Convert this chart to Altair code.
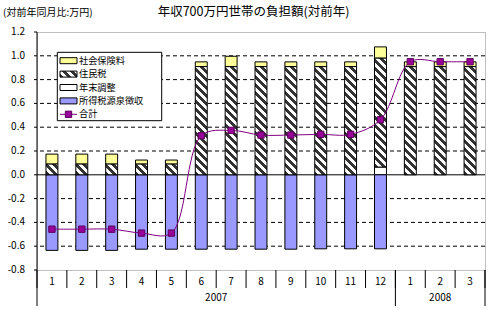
import altair as alt
import pandas as pd

# ---------------- data ----------------
months = ["1", "2", "3", "4", "5", "6", "7", "8", "9", "10", "11", "12", "1", "2", "3"]
years = ["2007"] * 12 + ["2008"] * 3
series_names = ["社会保険料", "住民税", "年末調整", "所得税源泉徴収"]
total_name = "合計"

social_insurance = [0.084, 0.084, 0.084, 0.034, 0.034, 0.040, 0.087, 0.040, 0.040, 0.040, 0.040, 0.095, 0.040, 0.040, 0.040]
resident_tax = [0.090, 0.090, 0.090, 0.090, 0.090, 0.909, 0.909, 0.909, 0.909, 0.909, 0.909, 0.915, 0.909, 0.909, 0.909]
year_end_adj = [0, 0, 0, 0, 0, 0, 0, 0, 0, 0, 0, 0.065, 0, 0, 0]
withholding = [-0.635, -0.635, -0.635, -0.625, -0.625, -0.625, -0.625, -0.625, -0.625, -0.622, -0.622, -0.622, 0, 0, 0]
total = [-0.457, -0.457, -0.457, -0.490, -0.490, 0.328, 0.373, 0.334, 0.334, 0.340, 0.340, 0.463, 0.950, 0.950, 0.950]
y_ticks = [-0.8, -0.6, -0.4, -0.2, 0.0, 0.2, 0.4, 0.6, 0.8, 1.0, 1.2]

# ---------------- tables built from the arrays ----------------
rows = []
for i in range(len(months)):
    ye, rt, si, wh = year_end_adj[i], resident_tax[i], social_insurance[i], withholding[i]
    parts = [
        ("年末調整", 0.0, ye, ye),
        ("住民税", ye, ye + rt, rt),
        ("社会保険料", ye + rt, ye + rt + si, si),
        ("所得税源泉徴収", 0.0, wh, wh),
    ]
    for name, a, b, v in parts:
        if v != 0:
            rows.append({"idx": i, "x0": i + 0.3, "x1": i + 0.7, "series": name,
                         "y0": a, "y1": b, "value": v})
bars = pd.DataFrame(rows)
line_df = pd.DataFrame({"xc": [i + 0.5 for i in range(len(months))], "total": total})

n = len(months)
month_df = pd.DataFrame({"xc": [i + 0.5 for i in range(n)], "m": months})
bounds = pd.DataFrame({"b": list(range(n + 1))})
year_starts = [i for i in range(n) if i == 0 or years[i] != years[i - 1]]
year_bounds = pd.DataFrame({"b": year_starts + [n]})
year_labels = pd.DataFrame({
    "year": [years[s] for s in year_starts],
    "mid": [(s + e) / 2 for s, e in zip(year_starts, year_starts[1:] + [n])],
})
grid_df = pd.DataFrame({"g": [v for v in y_ticks if v not in (0.0, -0.8, 1.2)]})
ytick_df = pd.DataFrame({"v": y_ticks, "lab": [f"{v:.1f}" for v in y_ticks]})

# ---------------- styling ----------------
W, H = 448, 238
FONT = "Noto Sans CJK JP"
colors = {"社会保険料": "#FFFF99", "住民税": "#333333", "年末調整": "#FFFFFF", "所得税源泉徴収": "#9999FF"}
PURPLE = "#800080"
step_px = W / n
px_per_unit = H / 2.0


def hatch(w, h, period=8.0, dark="#333333", light="#FFFFFF"):
    r = h / w
    s = (1 + r) / (1 + r * r)
    count = (h + w) / period
    stops = []
    k = 0
    while k < count:
        a = k / count
        b = min((k + 0.5) / count, 1.0)
        c = min((k + 1) / count, 1.0)
        stops.append(alt.GradientStop(offset=a, color=dark))
        stops.append(alt.GradientStop(offset=b, color=dark))
        if b < 1.0:
            stops.append(alt.GradientStop(offset=b, color=light))
            stops.append(alt.GradientStop(offset=c, color=light))
        k += 1
    return alt.LinearGradient(gradient="linear", stops=stops, x1=0, y1=1, x2=s, y2=1 - s * r)


xscale = alt.Scale(domain=[0, n], nice=False, zero=False)
yscale = alt.Scale(domain=[-0.8, 1.2], nice=False)
color_scale = alt.Scale(domain=series_names, range=[colors[s] for s in series_names])

base = alt.Chart(bars)

# dashed grid lines and the solid zero line
grid = alt.Chart(grid_df).mark_rule(color="black", strokeWidth=1, strokeDash=[4, 3]).encode(
    y=alt.Y("g:Q", scale=yscale, axis=None),
)
zero_rule = alt.Chart(pd.DataFrame({"z": [0.0]})).mark_rule(color="black", strokeWidth=1).encode(
    y=alt.Y("z:Q", axis=None))

# y axis: solid line, small ticks and labels
y_domain = alt.Chart(pd.DataFrame({"a": [-0.8], "b": [1.2]})).mark_rule(color="black", strokeWidth=1).encode(
    x=alt.value(0), y=alt.Y("a:Q", axis=None), y2="b:Q")
y_tick_marks = alt.Chart(ytick_df).mark_rule(color="black", strokeWidth=1).encode(
    x=alt.value(-3), x2=alt.value(0), y=alt.Y("v:Q", axis=None))
y_labels = alt.Chart(ytick_df).mark_text(
    align="right", baseline="middle", fontSize=10, font=FONT, color="black"
).encode(x=alt.value(-12), y=alt.Y("v:Q", axis=None), text="lab:N")

plain_bars = base.transform_filter("datum.series != '住民税'").mark_bar(
    stroke="black", strokeWidth=1
).encode(
    x=alt.X("x0:Q", scale=xscale, axis=None),
    x2="x1:Q",
    y=alt.Y("y0:Q", scale=yscale, axis=None),
    y2="y1:Q",
    fill=alt.Fill("series:N", scale=color_scale, legend=None),
)

tall_h = 0.909 * px_per_unit
short_h = 0.09 * px_per_unit
bar_w = 0.4 * step_px

hatched_tall = base.transform_filter("datum.series == '住民税' && datum.value > 0.5").mark_bar(
    stroke="black", strokeWidth=1, fill=hatch(bar_w, tall_h)
).encode(x=alt.X("x0:Q", axis=None), x2="x1:Q", y=alt.Y("y0:Q", axis=None), y2="y1:Q")

hatched_short = base.transform_filter("datum.series == '住民税' && datum.value <= 0.5").mark_bar(
    stroke="black", strokeWidth=1, fill=hatch(bar_w, short_h)
).encode(x=alt.X("x0:Q", axis=None), x2="x1:Q", y=alt.Y("y0:Q", axis=None), y2="y1:Q")

total_line = alt.Chart(line_df).mark_line(
    color=PURPLE, strokeWidth=1, interpolate="catmull-rom"
).encode(x=alt.X("xc:Q", axis=None), y=alt.Y("total:Q", axis=None))

total_pts = alt.Chart(line_df).mark_point(
    shape="square", filled=True, size=40, color="#990099", stroke="#5A005A", strokeWidth=1, opacity=1
).encode(x=alt.X("xc:Q", axis=None), y=alt.Y("total:Q", axis=None))

# category axis below the plot
month_text = alt.Chart(month_df).mark_text(
    fontSize=10, font=FONT, color="black", baseline="middle", align="center"
).encode(x=alt.X("xc:Q", axis=None), y=alt.value(H + 12), text="m:N")
sep_short = alt.Chart(bounds).mark_rule(color="black", strokeWidth=1).encode(
    x=alt.X("b:Q", axis=None), y=alt.value(H), y2=alt.value(H + 18))
sep_tall = alt.Chart(year_bounds).mark_rule(color="black", strokeWidth=1).encode(
    x=alt.X("b:Q", axis=None), y=alt.value(H), y2=alt.value(H + 36))
year_text = alt.Chart(year_labels).mark_text(
    fontSize=10, font=FONT, color="black", baseline="middle", align="center"
).encode(x=alt.X("mid:Q", axis=None), y=alt.value(H + 28), text="year:N")

# titles
title_df = pd.DataFrame({"t": ["年収700万円世帯の負担額(対前年)"]})
title = alt.Chart(title_df).mark_text(fontSize=12.5, font=FONT, color="black", align="center",
                                      baseline="middle").encode(
    x=alt.value(216.5), y=alt.value(-20), text="t:N")
sub_df = pd.DataFrame({"t": ["(対前年同月比:万円)"]})
subtitle = alt.Chart(sub_df).mark_text(fontSize=10, font=FONT, color="black", align="left",
                                       baseline="middle").encode(
    x=alt.value(-34), y=alt.value(-19), text="t:N")

# legend (hand-built)
legend_names = series_names + [total_name]
ly = [28.7 + 13.4 * k for k in range(len(legend_names))]
leg = pd.DataFrame({"name": legend_names, "yc": ly,
                    "ya": [v - 3 for v in ly], "yb": [v + 3 for v in ly]})
leg_box = alt.Chart(pd.DataFrame({"a": [0]})).mark_rect(
    fill="white", stroke="black", strokeWidth=1
).encode(x=alt.value(20.3), x2=alt.value(124.7), y=alt.value(20.3), y2=alt.value(88.7))
leg_sym = alt.Chart(leg).transform_filter(
    "datum.name != '住民税' && datum.name != '合計'"
).mark_rect(stroke="black", strokeWidth=1).encode(
    x=alt.value(23), x2=alt.value(40),
    y=alt.Y("ya:Q", scale=None), y2="yb:Q",
    fill=alt.Fill("name:N", scale=color_scale, legend=None))
leg_hatch = alt.Chart(leg).transform_filter("datum.name == '住民税'").mark_rect(
    stroke="black", strokeWidth=1, fill=hatch(17, 6)
).encode(x=alt.value(23), x2=alt.value(40), y=alt.Y("ya:Q", scale=None), y2="yb:Q")
leg_line = alt.Chart(leg).transform_filter("datum.name == '合計'").mark_rule(
    color=PURPLE, strokeWidth=1
).encode(x=alt.value(23), x2=alt.value(40), y=alt.Y("yc:Q", scale=None))
leg_pt = alt.Chart(leg).transform_filter("datum.name == '合計'").mark_point(
    shape="square", filled=True, size=40, color="#990099", stroke="#5A005A", strokeWidth=1, opacity=1
).encode(x=alt.value(31.5), y=alt.Y("yc:Q", scale=None))
leg_text = alt.Chart(leg).mark_text(
    align="left", baseline="middle", fontSize=9.2, font=FONT, color="black"
).encode(x=alt.value(42), y=alt.Y("yc:Q", scale=None), text="name:N")

chart = alt.layer(
    grid, zero_rule, plain_bars, hatched_tall, hatched_short, total_line, total_pts,
    y_domain, y_tick_marks, y_labels,
    month_text, sep_short, sep_tall, year_text, title, subtitle,
    leg_box, leg_sym, leg_hatch, leg_line, leg_pt, leg_text,
).properties(
    width=W, height=H,
    autosize=alt.AutoSizeParams(type="none"),
    padding={"left": 37, "top": 32, "right": 16, "bottom": 40},
    background="white",
).configure_view(
    stroke="#808080", strokeDash=[1, 1], strokeWidth=1
)

chart.save("out.html", embed_options={"renderer": "svg", "actions": False})
